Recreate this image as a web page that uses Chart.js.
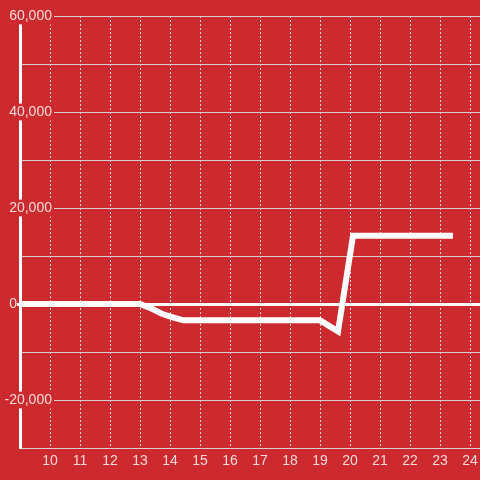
<!DOCTYPE html>
<html>
<head>
<meta charset="utf-8">
<script src="https://cdn.jsdelivr.net/npm/chart.js@4/dist/chart.umd.min.js"></script>
<style>
  html, body { margin: 0; padding: 0; background: #CC2A2E; }
  #wrap { width: 480px; height: 480px; }
</style>
</head>
<body>
<div id="wrap"><canvas id="c" width="480" height="480"></canvas></div>
<script>
// ---- data ----
const xValues = [9, 13, 13.4, 13.75, 14.15, 14.45, 19.0, 19.6, 20.1, 23.43];
const yValues = [0, 0, -1000, -2100, -2900, -3400, -3400, -5700, 14200, 14200];
const xTickValues = [10, 11, 12, 13, 14, 15, 16, 17, 18, 19, 20, 21, 22, 23, 24];
const xTickLabels = ['10', '11', '12', '13', '14', '15', '16', '17', '18', '19', '20', '21', '22', '23', '24'];
const yTickValues = [-20000, 0, 20000, 40000, 60000];
const yTickLabels = ['-20,000', '0         ', '20,000', '40,000', '60,000'];

const BG = '#CC2A2E';
const TEXT = '#F3DADB';
const FONT = { family: 'Liberation Sans, Arial, sans-serif', size: 14 };

const points = xValues.map((x, i) => ({ x: x, y: yValues[i] }));

const bgPlugin = {
  id: 'bg',
  beforeDraw(chart) {
    const ctx = chart.ctx;
    ctx.save();
    ctx.fillStyle = BG;
    ctx.fillRect(0, 0, chart.width, chart.height);
    ctx.restore();
  }
};

new Chart(document.getElementById('c'), {
  type: 'line',
  data: {
    datasets: [{
      data: points,
      borderColor: '#FFFFFF',
      borderWidth: 6,
      pointRadius: 0,
      tension: 0,
      borderJoinStyle: 'miter',
      borderCapStyle: 'butt',
      fill: false
    }]
  },
  options: {
    responsive: false,
    animation: false,
    layout: { padding: { top: 16, right: 0, bottom: 0, left: 0 } },
    plugins: { legend: { display: false }, tooltip: { enabled: false } },
    scales: {
      x: {
        type: 'linear',
        min: 9,
        max: 24.333,
        afterFit: s => { s.height = 32; },
        ticks: {
          stepSize: 1,
          includeBounds: false,
          autoSkip: false,
          maxRotation: 0,
          padding: 0,
          color: TEXT,
          font: FONT,
          callback: v => {
            const i = xTickValues.indexOf(v);
            return i >= 0 ? xTickLabels[i] : '';
          }
        },
        grid: {
          color: 'rgba(240,235,235,0.9)',
          lineWidth: 1,
          drawTicks: true,
          tickLength: 5,
          tickColor: 'rgba(0,0,0,0)'
        },
        border: { display: false, dash: [2, 2] }
      },
      y: {
        type: 'linear',
        min: -30000,
        max: 60000,
        afterFit: s => { s.width = 20; },
        ticks: {
          stepSize: 10000,
          autoSkip: false,
          mirror: true,
          crossAlign: 'far',
          padding: -15.5,
          color: TEXT,
          font: FONT,
          z: 2,
          showLabelBackdrop: ctx => ctx.tick && ctx.tick.value !== 0 && yTickValues.indexOf(ctx.tick.value) >= 0,
          backdropColor: BG,
          backdropPadding: { top: 0, bottom: 0, left: 2, right: 2 },
          callback: v => {
            const i = yTickValues.indexOf(v);
            return i >= 0 ? yTickLabels[i] : '';
          }
        },
        grid: {
          color: ctx => (ctx.tick && ctx.tick.value === 0) ? '#FFFFFF' : '#D6D0D0',
          lineWidth: ctx => (ctx.tick && ctx.tick.value === 0) ? 3 : 1,
          drawTicks: true,
          tickLength: 3,
          tickWidth: 3,
          tickColor: ctx => (ctx.tick && ctx.tick.value === 0) ? '#FFFFFF' : 'rgba(0,0,0,0)'
        },
        border: { display: true, color: '#FFFFFF', width: 3 }
      }
    }
  },
  plugins: [bgPlugin]
});
</script>
</body>
</html>
